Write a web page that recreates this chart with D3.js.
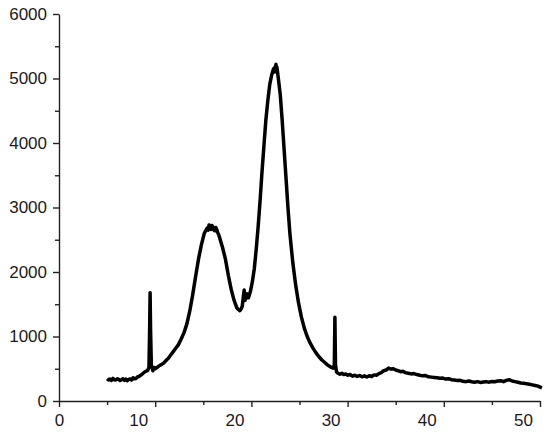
<!DOCTYPE html>
<html><head><meta charset="utf-8">
<script src="https://cdn.jsdelivr.net/npm/d3@7/dist/d3.min.js"></script>
<style>body{margin:0;background:#fff}svg{display:block}</style>
</head><body>
<svg id="c" width="550" height="438"></svg>
<script>
const twoTheta = [5.0,5.15,5.3,5.45,5.6,5.75,5.9,6.05,6.2,6.35,6.5,6.65,6.8,6.95,7.1,7.25,7.4,7.55,7.7,7.85,8.0,8.15,8.3,8.45,8.6,8.75,8.9,9.05,9.2,9.35,9.42,9.47,9.52,9.6,9.75,9.9,10.0,10.15,10.3,10.45,10.6,10.75,10.9,11.05,11.2,11.35,11.5,11.65,11.8,12.1,12.4,12.7,13.0,13.3,13.6,13.9,14.2,14.5,14.8,15.1,15.25,15.4,15.5,15.6,15.7,15.8,15.9,16.0,16.1,16.2,16.3,16.4,16.5,16.6,16.8,17.0,17.3,17.6,17.9,18.2,18.5,18.65,18.8,18.95,19.05,19.15,19.25,19.35,19.45,19.55,19.7,19.9,20.1,20.3,20.5,20.7,20.9,21.1,21.3,21.5,21.7,21.9,22.1,22.3,22.4,22.45,22.5,22.55,22.6,22.65,22.8,23.0,23.2,23.4,23.6,23.8,24.0,24.3,24.6,24.9,25.2,25.5,25.8,26.1,26.4,26.7,27.0,27.3,27.6,27.9,28.2,28.5,28.62,28.68,28.74,28.85,29.0,29.2,29.4,29.6,29.8,30.0,30.25,30.5,30.75,31.0,31.25,31.5,31.75,32.0,32.25,32.5,32.75,33.0,33.25,33.5,33.75,34.0,34.25,34.5,34.75,35.0,35.25,35.5,35.75,36.0,36.3,36.6,36.9,37.2,37.5,37.8,38.1,38.4,38.7,39.0,39.3,39.6,39.9,40.2,40.5,40.8,41.1,41.4,41.7,42.0,42.3,42.6,42.9,43.2,43.5,43.8,44.1,44.4,44.7,45.0,45.3,45.6,45.9,46.2,46.5,46.8,47.1,47.4,47.7,48.0,48.3,48.6,48.9,49.2,49.5,49.8,50.0,50.2];
const intensity = [345,325,340,320,350,330,325,345,335,318,330,345,320,338,315,335,342,325,360,345,350,372,380,395,410,430,450,462,470,520,1100,1680,1100,560,470,520,500,515,530,550,560,575,590,615,640,660,690,720,750,810,870,960,1060,1200,1400,1650,1930,2200,2420,2600,2640,2680,2650,2730,2690,2660,2720,2700,2650,2640,2690,2660,2610,2580,2480,2380,2200,1950,1730,1560,1440,1420,1400,1430,1470,1600,1720,1560,1620,1660,1600,1700,1850,2050,2350,2700,3100,3550,3950,4350,4650,4900,5050,5150,5100,5180,5120,5220,5150,5180,5000,4750,4350,3900,3450,3000,2600,2150,1800,1520,1300,1130,1000,900,820,750,690,640,600,560,530,510,560,1300,560,450,430,415,430,410,420,400,410,385,400,380,395,375,390,372,392,380,405,400,425,440,470,480,510,495,500,480,470,455,460,440,430,420,425,410,400,390,395,375,370,365,360,352,355,340,345,330,325,318,320,305,300,310,298,292,300,288,295,300,292,302,298,310,315,300,320,330,310,300,290,280,275,268,260,250,240,230,215,205,200];
const xTicks = [0,10,20,30,40,50];
const yTicks = [0,1000,2000,3000,4000,5000,6000];

const svg = d3.select('#c');
const x = d3.scaleLinear().domain([0,50]).range([59,540]);
const y = d3.scaleLinear().domain([0,6000]).range([401,14]);

const fontFam = '"Liberation Sans", Arial, sans-serif';

// x axis
const gx = svg.append('g').attr('transform','translate(0,401)');
gx.append('g').call(d3.axisBottom(x).tickValues(d3.range(5,50,10)).tickSize(4).tickFormat('')).call(g=>g.select('.domain').remove());
const gxm = gx.append('g').call(d3.axisBottom(x).tickValues(xTicks).tickSize(6).tickSizeOuter(0).tickFormat(d3.format('d')));
gx.selectAll('text').attr('font-size',17).attr('font-family',fontFam).attr('fill','#1a1a1a').attr('dy','0.95em');
gxm.selectAll('.tick text').attr('x', d => d === 0 ? 0 : -17);
gx.selectAll('line,path').attr('stroke','#222').attr('stroke-width',1.4);

// y axis
const gy = svg.append('g').attr('transform','translate(59,0)');
gy.append('g').call(d3.axisLeft(y).tickValues(d3.range(500,6000,1000)).tickSize(4).tickFormat('')).call(g=>g.select('.domain').remove());
gy.append('g').call(d3.axisLeft(y).tickValues(yTicks).tickSize(6).tickSizeOuter(0).tickFormat(d3.format('d')));
gy.selectAll('text').attr('font-size',17).attr('font-family',fontFam).attr('fill','#1a1a1a').attr('x',-12);
gy.selectAll('line,path').attr('stroke','#222').attr('stroke-width',1.4);

const data = twoTheta.map((t,i)=>[t,intensity[i]]);
svg.append('path').datum(data)
  .attr('fill','none').attr('stroke','#000').attr('stroke-width',3.5).attr('stroke-linejoin','round')
  .attr('d', d3.line().x(d=>x(d[0])).y(d=>y(d[1])));
</script>
</body></html>
